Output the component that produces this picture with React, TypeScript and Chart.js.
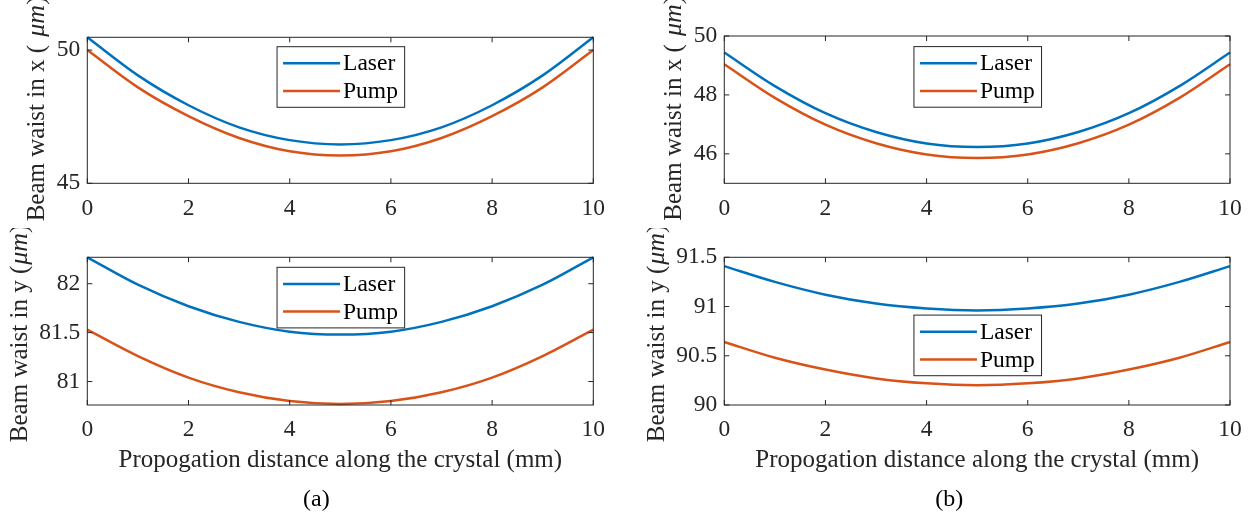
import React, { useEffect, useRef } from "react";
import { Chart, registerables } from "chart.js";

Chart.register(...registerables);

// ---------------- data ----------------
const distance = [0, 1, 2, 3, 4, 5, 6, 7, 8, 9, 10];
const xTicks = [0, 2, 4, 6, 8, 10];
const seriesLabels = ["Laser", "Pump"];

const laserWaistXA = [50.48, 49.05, 47.93, 47.1, 46.62, 46.46, 46.62, 47.1, 47.93, 49.05, 50.48];
const pumpWaistXA = [50.0, 48.6, 47.52, 46.7, 46.2, 46.04, 46.2, 46.7, 47.52, 48.6, 50.0];
const laserWaistYA = [82.27, 81.99, 81.77, 81.61, 81.51, 81.48, 81.51, 81.61, 81.77, 81.99, 82.27];
const pumpWaistYA = [81.53, 81.26, 81.04, 80.89, 80.8, 80.77, 80.8, 80.89, 81.04, 81.26, 81.53];
const laserWaistXB = [49.44, 48.3, 47.38, 46.74, 46.35, 46.23, 46.35, 46.74, 47.38, 48.3, 49.44];
const pumpWaistXB = [49.04, 47.9, 46.99, 46.36, 45.98, 45.86, 45.98, 46.36, 46.99, 47.9, 49.04];
const laserWaistYB = [91.41, 91.25, 91.12, 91.03, 90.98, 90.96, 90.98, 91.03, 91.12, 91.25, 91.41];
const pumpWaistYB = [90.64, 90.48, 90.36, 90.27, 90.22, 90.2, 90.22, 90.27, 90.36, 90.48, 90.64];

const yTicksXA = [45, 50];
const yRangeXA = [45, 50.48];
const yTicksYA = [81, 81.5, 82];
const yRangeYA = [80.76, 82.27];
const yTicksXB = [46, 48, 50];
const yRangeXB = [45, 50];
const yTicksYB = [90, 90.5, 91, 91.5];
const yRangeYB = [90, 91.5];

const yTitleX = "Beam waist in x (";
const yTitleY = "Beam waist in y (";
const yTitleUnit = "\u03bcm";
const xTitle = "Propogation distance along the crystal (mm)";
const captions = ["(a)", "(b)"];

// ---------------- styles ----------------
const SERIF = '"Liberation Serif", "Times New Roman", serif';
const TEXT = "#262626";
const BLUE = "#0072BD";
const ORANGE = "#D95319";
const TICK_SIZE = 23.5;
const LABEL_SIZE = 25;
const LEGEND_SIZE = 23.5;

type Area = { left: number; top: number; right: number; bottom: number };
type Panel = {
  left: number;
  top: number;
  width: number;
  height: number;
  area: Area;
  laser: number[];
  pump: number[];
  yRange: number[];
  yTicks: number[];
  yTitle: string;
  yTitleGap: string;
  yTitleOffset: number;
  legendTop: number;
  showXTitle: boolean;
  caption?: string;
  captionShift?: number;
};

const panels: Panel[] = [
  {
    left: 0, top: 0, width: 628, height: 228,
    area: { left: 87.3, top: 37.3, right: 593.3, bottom: 183.3 },
    laser: laserWaistXA, pump: pumpWaistXA, yRange: yRangeXA, yTicks: yTicksXA,
    yTitle: yTitleX, yTitleGap: " ", yTitleOffset: 43.5, legendTop: 9.4, showXTitle: false,
  },
  {
    left: 0, top: 228, width: 628, height: 297,
    area: { left: 87.3, top: 29.3, right: 593.3, bottom: 177 },
    laser: laserWaistYA, pump: pumpWaistYA, yRange: yRangeYA, yTicks: yTicksYA,
    yTitle: yTitleY, yTitleGap: "", yTitleOffset: 60.3, legendTop: 10, showXTitle: true,
    caption: captions[0], captionShift: -24,
  },
  {
    left: 628, top: 0, width: 628, height: 228,
    area: { left: 96.3, top: 36, right: 602, bottom: 183.3 },
    laser: laserWaistXB, pump: pumpWaistXB, yRange: yRangeXB, yTicks: yTicksXB,
    yTitle: yTitleX, yTitleGap: " ", yTitleOffset: 43.5, legendTop: 10.6, showXTitle: false,
  },
  {
    left: 628, top: 228, width: 628, height: 297,
    area: { left: 96.3, top: 29.3, right: 602, bottom: 177 },
    laser: laserWaistYB, pump: pumpWaistYB, yRange: yRangeYB, yTicks: yTicksYB,
    yTitle: yTitleY, yTitleGap: "", yTitleOffset: 60.3, legendTop: 57.8, showXTitle: true,
    caption: captions[1], captionShift: -28,
  },
];

const matlabPlugin = {
  id: "matlabAxes",
  afterDraw(chart: any, _args: any, opts: any) {
    const p: Panel = opts.panel;
    const { ctx, chartArea: a } = chart;
    const xs = chart.scales.x;
    const ys = chart.scales.y;
    ctx.save();
    // axes box
    ctx.strokeStyle = TEXT;
    ctx.lineWidth = 1;
    ctx.strokeRect(a.left, a.top, a.right - a.left, a.bottom - a.top);
    // inward ticks
    const tl = 5;
    ctx.beginPath();
    xs.ticks.forEach((t: any) => {
      const px = xs.getPixelForValue(t.value);
      ctx.moveTo(px, a.bottom);
      ctx.lineTo(px, a.bottom - tl);
      ctx.moveTo(px, a.top);
      ctx.lineTo(px, a.top + tl);
    });
    ys.ticks.forEach((t: any) => {
      const py = ys.getPixelForValue(t.value);
      ctx.moveTo(a.left, py);
      ctx.lineTo(a.left + tl, py);
      ctx.moveTo(a.right, py);
      ctx.lineTo(a.right - tl, py);
    });
    ctx.stroke();

    // legend
    const bw = 127.6;
    const bh = 60.6;
    const bx = a.left + 0.375 * (a.right - a.left);
    const by = a.top + p.legendTop;
    ctx.fillStyle = "#ffffff";
    ctx.fillRect(bx, by, bw, bh);
    ctx.strokeStyle = TEXT;
    ctx.lineWidth = 1;
    ctx.strokeRect(bx, by, bw, bh);
    chart.data.datasets.forEach((ds: any, i: number) => {
      const ry = by + 16.6 + i * 27.7;
      ctx.strokeStyle = ds.borderColor;
      ctx.lineWidth = 2.5;
      ctx.beginPath();
      ctx.moveTo(bx + 6, ry);
      ctx.lineTo(bx + 63, ry);
      ctx.stroke();
      ctx.fillStyle = "#000000";
      ctx.font = `${LEGEND_SIZE}px ${SERIF}`;
      ctx.textAlign = "left";
      ctx.textBaseline = "middle";
      ctx.fillText(ds.label, bx + 66, ry + 1);
    });

    // y title (rotated, with italic unit)
    ctx.save();
    const cy = (a.top + a.bottom) / 2 + 111;
    ctx.translate(a.left - p.yTitleOffset, cy);
    ctx.rotate(-Math.PI / 2);
    ctx.fillStyle = TEXT;
    ctx.textAlign = "left";
    ctx.textBaseline = "alphabetic";
    let cx = 0;
    ctx.font = `${LABEL_SIZE}px ${SERIF}`;
    ctx.fillText(p.yTitle, cx, 0);
    cx += ctx.measureText(p.yTitle + p.yTitleGap).width + (p.yTitleGap ? 2 : 1);
    ctx.font = `italic ${LABEL_SIZE + 1}px ${SERIF}`;
    ctx.fillText(yTitleUnit, cx, 0);
    cx += ctx.measureText(yTitleUnit).width;
    ctx.font = `${LABEL_SIZE + 1}px ${SERIF}`;
    ctx.fillText(")", cx, 0);
    ctx.restore();

    // x title
    if (p.showXTitle) {
      ctx.fillStyle = TEXT;
      ctx.font = `${LABEL_SIZE}px ${SERIF}`;
      ctx.textAlign = "center";
      ctx.textBaseline = "alphabetic";
      ctx.fillText(xTitle, (a.left + a.right) / 2, a.bottom + 62);
    }
    if (p.caption) {
      ctx.fillStyle = "#000000";
      ctx.font = `24px ${SERIF}`;
      ctx.textAlign = "center";
      ctx.textBaseline = "alphabetic";
      ctx.fillText(p.caption, (a.left + a.right) / 2 + (p.captionShift || 0), a.bottom + 101);
    }
    ctx.restore();
  },
};

function PanelChart({ p }: { p: Panel }) {
  const ref = useRef<HTMLCanvasElement | null>(null);
  useEffect(() => {
    if (!ref.current) return;
    const font = { family: SERIF, size: TICK_SIZE };
    const chart = new Chart(ref.current, {
      type: "line",
      data: {
        datasets: [
          {
            label: seriesLabels[0],
            data: distance.map((x, i) => ({ x, y: p.laser[i] })),
            borderColor: BLUE,
            borderWidth: 2.5,
            pointRadius: 0,
            cubicInterpolationMode: "monotone",
            fill: false,
            clip: 4,
          },
          {
            label: seriesLabels[1],
            data: distance.map((x, i) => ({ x, y: p.pump[i] })),
            borderColor: ORANGE,
            borderWidth: 2.5,
            pointRadius: 0,
            cubicInterpolationMode: "monotone",
            fill: false,
            clip: 4,
          },
        ],
      },
      options: {
        animation: false,
        responsive: false,
        maintainAspectRatio: false,
        devicePixelRatio: 1,
        events: [],
        layout: {
          padding: { left: 0, top: p.area.top, right: p.width - p.area.right, bottom: 0 },
        },
        plugins: {
          legend: { display: false },
          tooltip: { enabled: false },
          matlabAxes: { panel: p },
        } as any,
        scales: {
          x: {
            type: "linear",
            min: 0,
            max: 10,
            afterBuildTicks: (s: any) => {
              s.ticks = xTicks.map((v) => ({ value: v }));
            },
            afterFit: (s: any) => {
              s.height = p.height - p.area.bottom;
            },
            grid: { display: false, drawTicks: false },
            border: { display: false },
            ticks: {
              font,
              color: TEXT,
              padding: 11,
              maxRotation: 0,
              autoSkip: false,
              callback: (v: any) => String(v),
            },
          },
          y: {
            type: "linear",
            min: p.yRange[0],
            max: p.yRange[1],
            afterBuildTicks: (s: any) => {
              s.ticks = p.yTicks.map((v) => ({ value: v }));
            },
            afterFit: (s: any) => {
              s.width = p.area.left;
            },
            grid: { display: false, drawTicks: false },
            border: { display: false },
            ticks: {
              font,
              color: TEXT,
              padding: 7,
              autoSkip: false,
              callback: (v: any) => String(v),
            },
          },
        },
      } as any,
      plugins: [matlabPlugin],
    });
    return () => chart.destroy();
  }, [p]);
  return (
    <canvas
      ref={ref}
      width={p.width}
      height={p.height}
      style={{
        position: "absolute",
        left: p.left,
        top: p.top,
        width: p.width,
        height: p.height,
      }}
    />
  );
}

export default function App() {
  return (
    <div
      style={{
        position: "absolute",
        left: 0,
        top: 0,
        width: 1256,
        height: 525,
        background: "#ffffff",
        overflow: "hidden",
      }}
    >
      {panels.map((p, i) => (
        <PanelChart key={i} p={p} />
      ))}
    </div>
  );
}
